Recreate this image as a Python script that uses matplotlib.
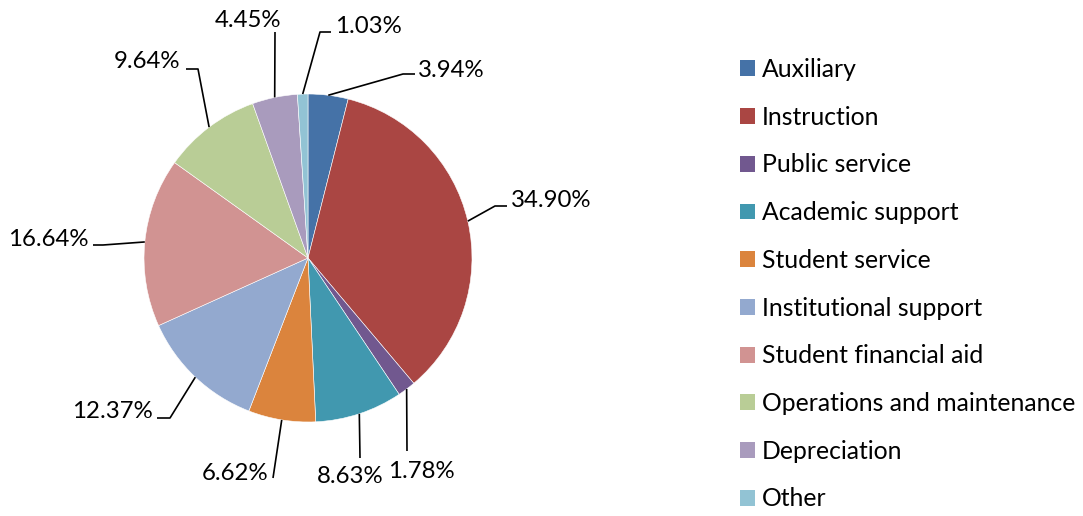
import matplotlib.pyplot as plt
from matplotlib.patches import Patch
import numpy as np

plt.rcParams['font.family'] = ['Lato', 'DejaVu Sans']

categories = ['Auxiliary', 'Instruction', 'Public service', 'Academic support',
              'Student service', 'Institutional support', 'Student financial aid',
              'Operations and maintenance', 'Depreciation', 'Other']
shares = [3.94, 34.90, 1.78, 8.63, 6.62, 12.37, 16.64, 9.64, 4.45, 1.03]
colors = ['#4572A7', '#AA4643', '#71588F', '#4198AF', '#DB843D',
          '#93A9CF', '#D19392', '#B9CD96', '#A99BBD', '#92C3D4']

W, H = 1083, 516
# label layout in pixels from the top-left: elbow, end of leader, text anchor
label_layout = [
    ((403, 74), (415, 74), (418, 77)),
    ((495, 206), (507, 206), (511, 207)),
    ((407, 451), (407, 451), (388, 478)),
    ((360, 458), (360, 458), (317, 483)),
    ((273, 478), (273, 478), (202, 480)),
    ((170, 418), (157, 418), (72, 418)),
    ((103, 245), (93, 245), (8, 246)),
    ((198, 69), (186, 69), (114, 68)),
    ((275, 32), (275, 32), (215, 27)),
    ((320, 32), (331, 32), (335, 33)),
]

fig = plt.figure(figsize=(W / 100, H / 100), dpi=100)
ax = fig.add_axes([0, 0, 1, 1])

cx, cy, r = 308, H - 258, 164
wedges, _ = ax.pie(shares, colors=colors, startangle=90, counterclock=False,
                   center=(cx, cy), radius=r,
                   wedgeprops=dict(edgecolor='white', linewidth=0.4))
ax.set_xlim(0, W)
ax.set_ylim(0, H)
ax.set_aspect('equal')
ax.axis('off')

for w, val, (elbow, end, txt) in zip(wedges, shares, label_layout):
    mid = np.deg2rad((w.theta1 + w.theta2) / 2)
    x0, y0 = cx + r * np.cos(mid), cy + r * np.sin(mid)
    ax.plot([x0, elbow[0], end[0]], [y0, H - elbow[1], H - end[1]],
            color='black', lw=1.2, solid_capstyle='butt')
    ax.text(txt[0], H - txt[1], f'{val:.2f}%', ha='left', va='baseline',
            fontsize=17.3, color='black')

handles = [Patch(facecolor=c, edgecolor='none') for c in colors]
ax.legend(handles, categories, loc='upper left', bbox_to_anchor=(740 / W, 1 - 58 / H),
          frameon=False, fontsize=17.8, labelspacing=1.0, handlelength=0.61,
          handleheight=0.61, handletextpad=0.28, borderpad=0, borderaxespad=0)

fig.savefig('out.png', dpi=100)
